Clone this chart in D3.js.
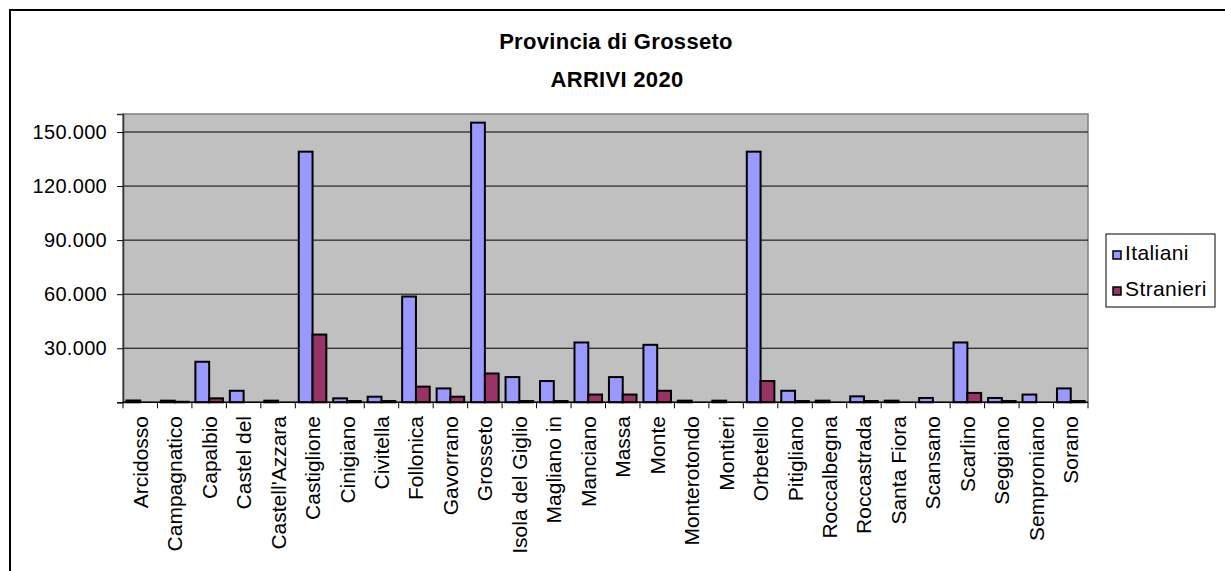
<!DOCTYPE html>
<html>
  <head>
  <script src="https://cdn.jsdelivr.net/npm/d3@7"></script>
 </head>
  <body style="margin:0;background:#fff">
    <div id="chart"></div>
<style>
text {
  font-family: "Liberation Sans", Arial, sans-serif;
  fill: #000;
}
.grid line {
  stroke: #000;
  stroke-width: 1;
}
.bar {
  stroke: #000;
  stroke-width: 2;
}
</style>

    <script type="text/javascript">

var comuni = ["Arcidosso", "Campagnatico", "Capalbio", "Castel del", "Castell'Azzara",
  "Castiglione", "Cinigiano", "Civitella", "Follonica", "Gavorrano", "Grosseto",
  "Isola del Giglio", "Magliano in", "Manciano", "Massa", "Monte", "Monterotondo",
  "Montieri", "Orbetello", "Pitigliano", "Roccalbegna", "Roccastrada", "Santa Fiora",
  "Scansano", "Scarlino", "Seggiano", "Semproniano", "Sorano"];

var italiani = [1000, 900, 22500, 6400, 900, 139100, 2200, 3100, 58700, 7700, 155200,
  14000, 11800, 33200, 14000, 31900, 900, 900, 139100, 6400, 900, 3300, 900, 2400,
  33200, 2400, 4300, 7700];

var stranieri = [0, 300, 2200, 0, 0, 37600, 700, 700, 8700, 3100, 16000, 700, 700,
  4300, 4300, 6400, 0, 0, 11800, 700, 0, 700, 0, 0, 5200, 700, 0, 700];

var serie = ["Italiani", "Stranieri"];
var colori = ["#9999ff", "#993366"];
var yTicks = [0, 30000, 60000, 90000, 120000, 150000];

var w = 1225,
    h = 571,
    pLeft = 123, pRight = 1088, pTop = 114, pBottom = 402.3;

var svg = d3.select("#chart").append("svg")
    .attr("width", w)
    .attr("height", h);

// outer frame
svg.append("rect")
    .attr("x", 10).attr("y", 10)
    .attr("width", 1400).attr("height", 800)
    .style("fill", "none").style("stroke", "#000").style("stroke-width", 2);

var x = d3.scaleBand()
    .domain(comuni)
    .range([pLeft, pRight]);

var xs = d3.scaleBand()
    .domain(serie)
    .range([0, x.bandwidth()])
    .paddingInner(0)
    .paddingOuter(0.25);

var y = d3.scaleLinear()
    .domain([0, 160000])
    .range([pBottom, pTop]);

// plot area
svg.append("rect")
    .attr("x", pLeft).attr("y", pTop)
    .attr("width", pRight - pLeft).attr("height", pBottom - pTop)
    .style("fill", "#c0c0c0").style("stroke", "#808080").style("stroke-width", 1.5);

svg.append("g")
    .attr("class", "grid")
  .selectAll("line")
  .data(yTicks.filter(function(d) { return d > 0; }))
  .enter().append("line")
    .attr("x1", pLeft).attr("x2", pRight)
    .attr("y1", function(d) { return y(d); })
    .attr("y2", function(d) { return y(d); });

// bars
var data = [];
comuni.forEach(function(c, i) {
  data.push({c: c, s: "Italiani", v: italiani[i]});
  data.push({c: c, s: "Stranieri", v: stranieri[i]});
});

svg.append("g").selectAll("rect")
    .data(data.filter(function(d) { return d.v > 0; }))
  .enter().append("rect")
    .attr("class", "bar")
    .attr("x", function(d) { return x(d.c) + xs(d.s); })
    .attr("y", function(d) { return y(d.v); })
    .attr("width", xs.bandwidth())
    .attr("height", function(d) { return pBottom - y(d.v); })
    .style("fill", function(d) { return colori[serie.indexOf(d.s)]; });

// y axis
var yAxis = d3.axisLeft(y)
    .tickValues(yTicks)
    .tickSize(6)
    .tickPadding(10)
    .tickFormat(function(d) { return d === 0 ? "" : d3.format(",")(d).replace(/,/g, "."); });

var ga = svg.append("g")
    .attr("transform", "translate(" + pLeft + ",0)")
    .call(yAxis);
ga.attr("font-family", null).attr("font-size", null);
ga.select(".domain").attr("stroke", "#333").attr("stroke-width", 1.5);
ga.selectAll(".tick line").attr("stroke", "#000");
ga.selectAll("text")
    .style("font-size", "20px")
    .style("letter-spacing", "0.3px");

// x axis
var gx = svg.append("g")
    .attr("transform", "translate(0," + pBottom + ")");
gx.append("line")
    .attr("x1", pLeft).attr("x2", pRight)
    .attr("stroke", "#000").attr("stroke-width", 1.5);
gx.selectAll(".xt")
    .data(d3.range(comuni.length + 1))
  .enter().append("line")
    .attr("class", "xt")
    .attr("x1", function(i) { return pLeft + i * x.step(); })
    .attr("x2", function(i) { return pLeft + i * x.step(); })
    .attr("y1", 0).attr("y2", 6)
    .attr("stroke", "#000");

svg.append("g").selectAll("text")
    .data(comuni)
  .enter().append("text")
    .attr("transform", function(d) {
      return "translate(" + (x(d) + x.bandwidth() / 2 + 7.5) + ",416) rotate(-90)";
    })
    .attr("text-anchor", "end")
    .style("font-size", "21px")
    .style("letter-spacing", "0px")
    .text(function(d) { return d; });

// title
svg.append("text")
    .attr("x", 616).attr("y", 49)
    .attr("text-anchor", "middle")
    .style("font-size", "22px").style("font-weight", "bold")
    .style("letter-spacing", "0.3px")
    .text("Provincia di Grosseto");
svg.append("text")
    .attr("x", 617).attr("y", 87)
    .attr("text-anchor", "middle")
    .style("font-size", "22px").style("font-weight", "bold")
    .style("letter-spacing", "0.3px")
    .text("ARRIVI 2020");

// legend
var lg = svg.append("g");
lg.append("rect")
    .attr("x", 1106).attr("y", 234)
    .attr("width", 109).attr("height", 73)
    .style("fill", "#fff").style("stroke", "#000").style("stroke-width", 1);
serie.forEach(function(s, i) {
  lg.append("rect")
      .attr("x", 1113).attr("y", 251 + i * 36)
      .attr("width", 8).attr("height", 8)
      .style("fill", colori[i]).style("stroke", "#000").style("stroke-width", 1.5);
  lg.append("text")
      .attr("x", 1125).attr("y", 260 + i * 36)
      .style("font-size", "21px")
      .style("letter-spacing", "0.4px")
      .text(s);
});
    </script>
  </body>
</html>
